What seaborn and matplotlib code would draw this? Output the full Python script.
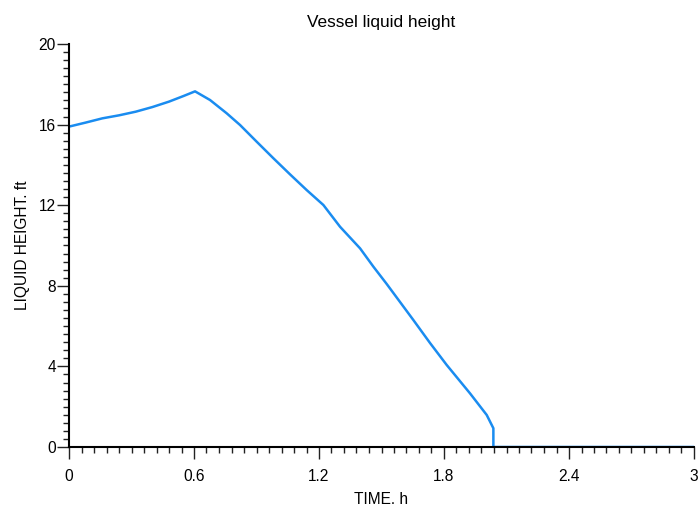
import matplotlib
matplotlib.use("Agg")
import matplotlib.pyplot as plt
import seaborn as sns
import pandas as pd
from matplotlib.ticker import MultipleLocator, FixedLocator

time_h = [0.0, 0.08, 0.16, 0.24, 0.32, 0.40, 0.48, 0.55, 0.605, 0.677, 0.757, 0.821,
          0.901, 0.981, 1.061, 1.141, 1.221, 1.301, 1.397, 1.461, 1.525, 1.653,
          1.733, 1.813, 1.925, 2.005, 2.037, 2.037, 3.0]
height_ft = [15.9, 16.1, 16.31, 16.46, 16.64, 16.87, 17.14, 17.42, 17.65, 17.22, 16.56,
             15.98, 15.15, 14.33, 13.53, 12.75, 12.01, 10.93, 9.86, 8.95, 8.09, 6.30,
             5.16, 4.07, 2.66, 1.59, 0.93, 0.0, 0.0]
x_ticks = [0, 0.6, 1.2, 1.8, 2.4, 3.0]
x_tick_labels = ["0", "0.6", "1.2", "1.8", "2.4", "3"]
y_ticks = [0, 4, 8, 12, 16, 20]
y_tick_labels = ["0", "4", "8", "12", "16", "20"]

sns.set_theme(style="ticks")
plt.rcParams['font.family'] = ['Liberation Sans', 'DejaVu Sans']

df = pd.DataFrame({"t": time_h, "h": height_ft})

fig = plt.figure(figsize=(6.99, 5.08), dpi=100)
ax = fig.add_axes([69/699, 1-447/508, (694-69)/699, (447-44)/508])
sns.lineplot(data=df, x="t", y="h", sort=False, estimator=None, color="#1a8cf0",
             linewidth=1.8, ax=ax)

ax.set_xlim(0, 3)
ax.set_ylim(0, 20)
ax.xaxis.set_major_locator(FixedLocator(x_ticks))
ax.set_xticklabels(x_tick_labels)
ax.xaxis.set_minor_locator(MultipleLocator(0.06))
ax.yaxis.set_major_locator(FixedLocator(y_ticks))
ax.set_yticklabels(y_tick_labels)
ax.yaxis.set_minor_locator(MultipleLocator(0.4))

for s in ["top", "right"]:
    ax.spines[s].set_visible(False)
for s in ["left", "bottom"]:
    ax.spines[s].set_linewidth(1.5)
    ax.spines[s].set_color("black")
ax.tick_params(which="major", length=8.5, width=1.0, color="#222222", labelsize=11.2,
               labelcolor="black", direction="out")
ax.tick_params(which="minor", length=4.3, width=1.0, color="#222222", direction="out")
ax.tick_params(axis="x", which="major", pad=7)
ax.tick_params(axis="y", which="major", pad=1)

ax.set_title("Vessel liquid height", fontsize=12.4, pad=12, color="black")
ax.set_xlabel("TIME. h", fontsize=11.2, color="black", labelpad=6)
ax.set_ylabel("LIQUID HEIGHT. ft", fontsize=11.2, color="black", labelpad=6)

fig.savefig("out.png", dpi=100)
